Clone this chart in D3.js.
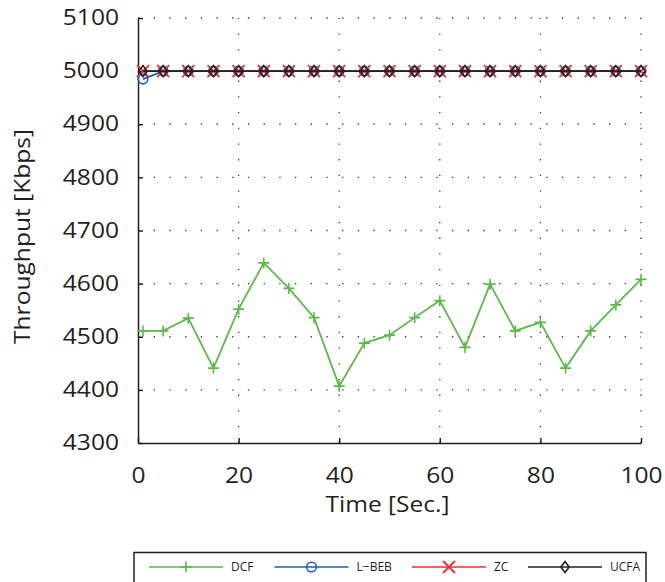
<!DOCTYPE html>
<html>
<head>
  <title></title>
  <style>
    body { margin: 0; background: #fff; }
    text { font-family: "Open Sans", sans-serif; fill: #231f20; }
  </style>
</head>
<body>
  <svg width="665" height="582"></svg>

  <script src="https://d3js.org/d3.v7.min.js"></script>
  <script>

  // data
  var timeSec = [1, 5, 10, 15, 20, 25, 30, 35, 40, 45, 50, 55, 60, 65, 70, 75, 80, 85, 90, 95, 100];
  var dcf  = [4511, 4511, 4535, 4441, 4552, 4639, 4591, 4536, 4407, 4488, 4503, 4536, 4568, 4480, 4599, 4511, 4527, 4441, 4511, 4560, 4608];
  var lbeb = [4985, 5000, 5000, 5000, 5000, 5000, 5000, 5000, 5000, 5000, 5000, 5000, 5000, 5000, 5000, 5000, 5000, 5000, 5000, 5000, 5000];
  var zc   = [5000, 5000, 5000, 5000, 5000, 5000, 5000, 5000, 5000, 5000, 5000, 5000, 5000, 5000, 5000, 5000, 5000, 5000, 5000, 5000, 5000];
  var ucfa = [5000, 5000, 5000, 5000, 5000, 5000, 5000, 5000, 5000, 5000, 5000, 5000, 5000, 5000, 5000, 5000, 5000, 5000, 5000, 5000, 5000];

  var seriesNames = ["DCF", "L\u2212BEB", "ZC", "UCFA"];
  var seriesColors = ["#5ab948", "#1d5fb3", "#ee2d30", "#231f20"];
  var seriesMarkers = ["plus", "circle", "cross", "diamond"];

  var xTicks = [0, 20, 40, 60, 80, 100];
  var yTicks = [4300, 4400, 4500, 4600, 4700, 4800, 4900, 5000, 5100];

  var svg = d3.select("svg");
  var stretch = 1.17;   // the original font is wider than anything installed
  var fontSize = 21;

  var x = d3.scaleLinear().domain([0, 100]).range([138, 641]);
  var y = d3.scaleLinear().domain([4300, 5100]).range([443, 18]);

  // dotted grid
  var grid = svg.append("g")
      .attr("stroke", "#3a3a3a")
      .attr("stroke-width", 1.3)
      .attr("stroke-dasharray", "1.3,14.4");

  grid.selectAll(".hg")
      .data(yTicks.slice(1))
    .enter().append("line")
      .attr("x1", x(0)).attr("x2", x(100))
      .attr("y1", y).attr("y2", y);

  grid.selectAll(".vg")
      .data(xTicks.slice(1))
    .enter().append("line")
      .attr("x1", x).attr("x2", x)
      .attr("y1", y(4300)).attr("y2", y(5100));

  // axes
  var yAxis = d3.axisLeft(y).tickValues(yTicks).tickFormat(d3.format("d"))
      .tickSize(-5).tickSizeOuter(0).tickPadding(16);
  var xAxis = d3.axisBottom(x).tickValues(xTicks).tickFormat(d3.format("d"))
      .tickSize(-5).tickSizeOuter(0).tickPadding(25);

  var gy = svg.append("g").attr("transform", "translate(" + x(0) + ",0)").call(yAxis);
  var gx = svg.append("g").attr("transform", "translate(0," + y(4300) + ")").call(xAxis);

  [gx, gy].forEach(function(g) {
    g.selectAll("path, line").attr("stroke", "#231f20").attr("stroke-width", 1.5);
    g.selectAll("text")
        .attr("font-family", "Open Sans")
        .attr("font-size", fontSize)
        .attr("fill", "#231f20");
  });
  gy.selectAll("text").attr("transform", "scale(" + stretch + ",1)").attr("x", -19 / stretch);
  gx.selectAll("text").attr("transform", "scale(" + stretch + ",1)");

  svg.append("text")
      .attr("transform", "translate(387.5,512) scale(" + stretch + ",1)")
      .attr("text-anchor", "middle")
      .attr("font-size", fontSize)
      .text("Time [Sec.]");

  svg.append("text")
      .attr("transform", "translate(30,236.5) rotate(-90) scale(" + stretch + ",1)")
      .attr("text-anchor", "middle")
      .attr("font-size", fontSize)
      .text("Throughput [Kbps]");

  // series
  var allValues = [dcf, lbeb, zc, ucfa];
  var line = d3.line()
      .x(function(d) { return x(d[0]); })
      .y(function(d) { return y(d[1]); });

  function drawMarker(g, kind, color) {
    if (kind == "plus") {
      g.append("path").attr("d", "M-5.5,0H5.5M0,-5.5V5.5")
          .attr("stroke", color).attr("stroke-width", 1.6).attr("fill", "none");
    } else if (kind == "circle") {
      g.append("circle").attr("r", 4.8)
          .attr("stroke", color).attr("stroke-width", 1.6).attr("fill", "none");
    } else if (kind == "cross") {
      g.append("path").attr("d", "M-6,-6L6,6M-6,6L6,-6")
          .attr("stroke", color).attr("stroke-width", 1.8).attr("fill", "none");
    } else {
      g.append("path").attr("d", "M0,-5.5L4.2,0L0,5.5L-4.2,0Z")
          .attr("stroke", color).attr("stroke-width", 1.6).attr("fill", "none");
    }
  }

  allValues.forEach(function(vals, i) {
    var pts = timeSec.map(function(t, j) { return [t, vals[j]]; });
    var g = svg.append("g");
    g.append("path")
        .attr("d", line(pts))
        .attr("fill", "none")
        .attr("stroke", seriesColors[i])
        .attr("stroke-width", 1.8);
    pts.forEach(function(p) {
      var m = g.append("g").attr("transform", "translate(" + x(p[0]) + "," + y(p[1]) + ")");
      drawMarker(m, seriesMarkers[i], seriesColors[i]);
    });
  });

  // legend
  var legend = svg.append("g");
  legend.append("rect")
      .attr("x", 134).attr("y", 552.5)
      .attr("width", 512).attr("height", 40)
      .attr("fill", "#fff")
      .attr("stroke", "#231f20")
      .attr("stroke-width", 1.5);

  var legendX = [149, 274.5, 412, 528];
  seriesNames.forEach(function(name, i) {
    var lx = legendX[i];
    legend.append("line")
        .attr("x1", lx).attr("x2", lx + 74)
        .attr("y1", 567).attr("y2", 567)
        .attr("stroke", seriesColors[i])
        .attr("stroke-width", 1.6);
    var m = legend.append("g").attr("transform", "translate(" + (lx + 37) + ",567)");
    drawMarker(m, seriesMarkers[i], seriesColors[i]);
    legend.append("text")
        .attr("x", lx + 82).attr("y", 567)
        .attr("dy", "0.35em")
        .attr("font-size", 12)
        .text(name);
  });

  </script>
</body>
</html>
